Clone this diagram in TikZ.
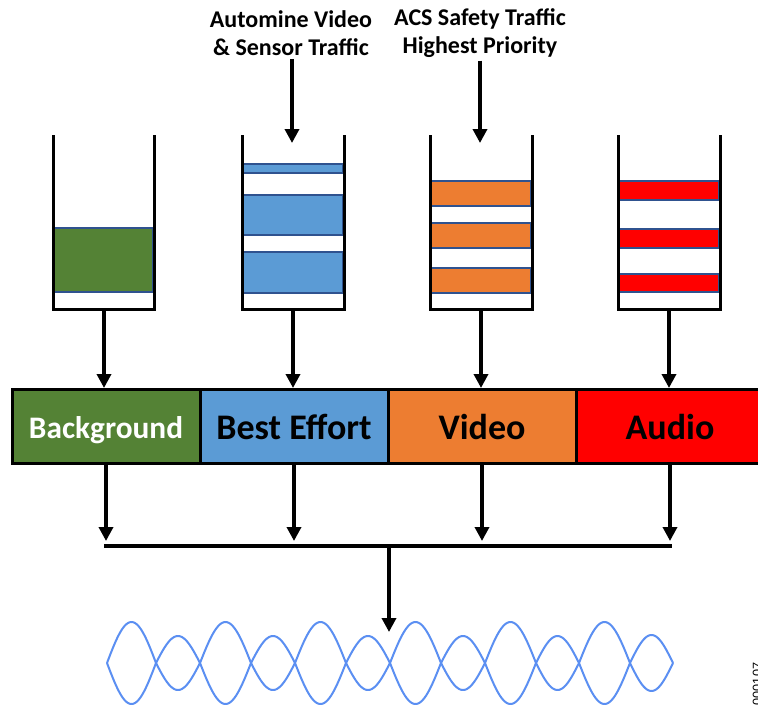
\documentclass[tikz,border=0pt]{standalone}
\usepackage{fontspec}
\setmainfont{Carlito}
\newfontfamily\numfont{Liberation Sans}
\usetikzlibrary{arrows.meta}

\definecolor{bggreen}{HTML}{548235}
\definecolor{beblue}{HTML}{5B9BD5}
\definecolor{vidorange}{HTML}{ED7D31}
\definecolor{audred}{HTML}{FF0000}
\definecolor{pktline}{HTML}{2F528F}
\definecolor{wavecol}{HTML}{5B8FF2}

\begin{document}
\begin{tikzpicture}[x=0.75pt,y=-0.75pt,
  wall/.style={line width=2.25pt, line join=miter, line cap=rect},
  pkt/.style={draw=pktline, line width=1.1pt},
  arr/.style={line width=2.6pt, -{Triangle[length=10.5pt,width=10.5pt]}},
  busline/.style={line width=2.6pt, line cap=rect},
  cls/.style={draw=black, line width=2.25pt, minimum width=141pt, minimum height=55.5pt,
    inner sep=0pt, font=\bfseries\fontsize{27}{30}\selectfont, text height=20pt, text depth=0pt},
  toplabel/.style={align=center, font=\bfseries\fontsize{18}{21}\selectfont, inner sep=0pt},
  ripple/.style={draw=wavecol, line width=1.5pt, line join=round}]

\useasboundingbox (0,0) rectangle (758,715);
\fill[white] (0,0) rectangle (758,715);

% traffic sources
\node[toplabel] (src2) at (291,33) {Automine Video\\\& Sensor Traffic};
\node[toplabel] (src3) at (480,33) {ACS Safety Traffic\\Highest Priority};
\coordinate (in2) at (292,143);
\coordinate (in3) at (480,143);
\draw[arr] (in2 |- src2.south) ++(0,3) -- (in2);
\draw[arr] (in3 |- src3.south) ++(0,3) -- (in3);

% queue packets
\filldraw[pkt, fill=bggreen] (54.5,228) rectangle (152.5,292);

\filldraw[pkt, fill=beblue] (243.5,164) rectangle (342.5,173);
\filldraw[pkt, fill=beblue] (243.5,195) rectangle (342.5,235);
\filldraw[pkt, fill=beblue] (243.5,252) rectangle (342.5,293);

\filldraw[pkt, fill=vidorange] (431.5,181) rectangle (530.5,206);
\filldraw[pkt, fill=vidorange] (431.5,223) rectangle (530.5,248);
\filldraw[pkt, fill=vidorange] (431.5,268) rectangle (530.5,293);

\filldraw[pkt, fill=audred] (619.5,181) rectangle (718.5,200);
\filldraw[pkt, fill=audred] (619.5,229) rectangle (718.5,248);
\filldraw[pkt, fill=audred] (619.5,274) rectangle (718.5,292);

% queue walls
\draw[wall] (53,136) -- (53,309) -- (154,309) -- (154,136);
\draw[wall] (242,136) -- (242,309) -- (344,309) -- (344,136);
\draw[wall] (430,136) -- (430,309) -- (532,309) -- (532,136);
\draw[wall] (618,136) -- (618,309) -- (720,309) -- (720,136);

\coordinate (q1) at (104,309);
\coordinate (q2) at (293,309);
\coordinate (q3) at (481,309);
\coordinate (q4) at (669,309);

% access classes
\node[cls, fill=bggreen, text=white, font=\bfseries\fontsize{23.5}{26}\selectfont, text height=18pt] (bg) at (106,426.5) {Background};
\node[cls, fill=beblue] (be) at (294,426.5) {Best Effort};
\node[cls, fill=vidorange] (vi) at (482,426.5) {Video};
\node[cls, fill=audred] (au) at (670,426.5) {Audio};

\draw[arr] (q1) -- (q1 |- bg.north);
\draw[arr] (q2) -- (q2 |- be.north);
\draw[arr] (q3) -- (q3 |- vi.north);
\draw[arr] (q4) -- (q4 |- au.north);

% merge onto the channel
\coordinate (tap) at (0,541);
\coordinate (bus) at (389,546);
\coordinate (sig) at (389,632);
\draw[arr] (bg.south) -- (bg.south |- tap);
\draw[arr] (be.south) -- (be.south |- tap);
\draw[arr] (vi.south) -- (vi.south |- tap);
\draw[arr] (au.south) -- (au.south |- tap);
\draw[busline] (bg.south |- bus) -- (au.south |- bus);
\draw[arr] (bus) -- (sig);

% radio signal
\foreach \xa/\xb/\amp in {107/156/41, 156/200/27, 200/251/41, 251/295/27,
    295/346/41, 346/390/27, 390/441/41, 441/485/27, 485/536/41, 536/579/27,
    579/630/41, 630/673/28} {
  \draw[ripple] plot[domain=0:180, samples=40, variable=\t]
    ({\xa+(\xb-\xa)*\t/180}, {663-\amp*sin(\t)});
  \draw[ripple] plot[domain=0:180, samples=40, variable=\t]
    ({\xa+(\xb-\xa)*\t/180}, {663+\amp*sin(\t)});
}

% figure number
\node[rotate=90, anchor=north, inner sep=0pt, font=\numfont\fontsize{9.5}{10}\selectfont] (fignum) at (752.5,684) {000107};
\end{tikzpicture}
\end{document}
